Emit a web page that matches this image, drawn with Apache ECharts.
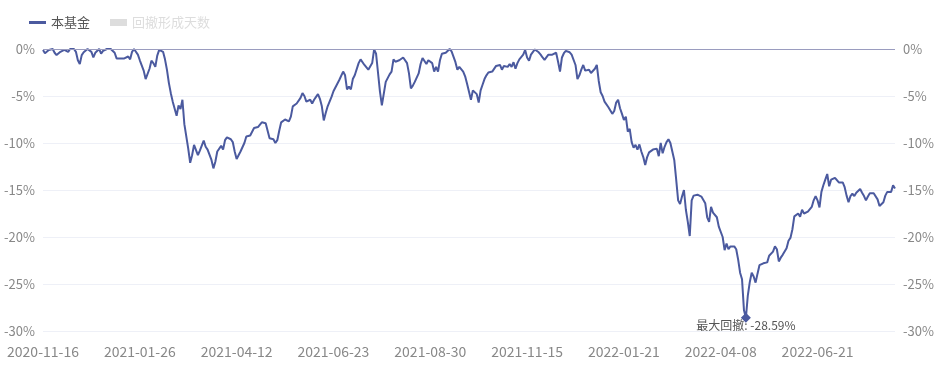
<!DOCTYPE html>
<html><head><meta charset="utf-8">
<script src="https://cdn.jsdelivr.net/npm/echarts@6/dist/echarts.min.js"></script>
<style>html,body{margin:0;padding:0;background:#fff}#chart{width:941px;height:368px}</style>
</head><body><div id="chart"></div>
<script>
// Visible x-axis tick labels (one every 50 points)
const tickDates = ['2020-11-16','2021-01-26','2021-04-12','2021-06-23','2021-08-30','2021-11-15','2022-01-21','2022-04-08','2022-06-21'];
const lastDate = '2022-08-18';
const pointsPerTick = 50;

// Drawdown of the fund (%), one value per trading day
const drawdown = [
-0.10,-0.45,-0.50,-0.10,-0.05,0.00,-0.40,-0.65,-0.45,-0.30,
-0.45,-0.10,-0.25,-0.30,0.00,-0.10,0.00,-0.30,-1.20,-1.60,
-0.65,-0.35,-0.20,0.00,0.00,-0.30,-0.90,-0.40,-0.50,0.00,
-0.50,-0.20,0.00,0.00,0.00,0.00,0.00,-0.40,-1.00,-1.00,
-1.00,-1.05,-1.00,-1.00,-0.80,-1.10,-0.30,0.00,0.00,-0.60,
-1.20,-1.40,-2.30,-3.20,-3.10,-2.10,-1.25,-1.50,-1.90,-0.70,
-0.10,0.00,-0.30,-1.10,-2.20,-3.60,-4.70,-5.60,-5.70,-7.10,
-6.00,-6.40,-5.40,-8.00,-8.20,-10.60,-12.10,-11.30,-10.20,-10.10,
-11.30,-10.80,-10.70,-9.75,-10.40,-10.70,-10.60,-11.80,-12.70,-12.00,
-10.90,-10.70,-10.30,-10.70,-9.70,-9.40,-9.50,-9.60,-9.90,-10.90,
-11.70,-11.60,-10.90,-10.90,-10.00,-9.30,-9.25,-9.20,-9.00,-8.40,
-8.60,-8.30,-8.50,-7.80,-7.70,-7.90,-8.70,-9.50,-9.70,-9.60,
-10.00,-9.70,-8.70,-7.80,-7.70,-7.50,-7.40,-7.70,-7.20,-6.10,
-5.90,-5.80,-5.70,-5.20,-4.70,-5.00,-5.60,-5.80,-5.40,-5.80,
-5.40,-5.10,-4.80,-5.30,-6.10,-7.60,-6.80,-6.10,-5.60,-5.10,
-4.50,-4.60,-3.70,-3.30,-3.20,-2.40,-2.80,-4.30,-4.00,-4.30,
-3.20,-2.80,-2.75,-1.50,-1.10,-1.20,-1.70,-1.50,-2.20,-2.30,
-1.50,-0.05,-0.50,-2.50,-4.50,-6.00,-6.00,-3.50,-3.70,-2.70,
-2.40,-1.10,-1.35,-1.25,-1.20,-1.05,-0.90,-1.10,-1.50,-2.60,
-4.20,-3.90,-3.50,-3.70,-2.60,-1.60,-0.95,-0.75,-1.60,-1.20,
-1.10,-1.50,-2.40,-1.90,-2.40,-1.20,-0.50,-0.45,-0.40,-0.20,
0.00,-0.25,-0.35,-1.40,-2.20,-1.90,-2.00,-2.40,-2.90,-3.70,
-3.70,-5.40,-4.40,-4.40,-4.80,-5.70,-4.40,-3.80,-3.20,-2.80,
-2.50,-2.30,-2.40,-2.50,-1.80,-1.60,-1.70,-2.20,-1.80,-1.70,
-1.90,-1.60,-1.90,-1.40,-2.10,-1.50,-1.10,-1.30,-0.60,-0.10,
-0.90,-1.25,-0.60,-0.55,-0.05,0.00,-0.35,-0.60,-0.90,-1.15,
-1.00,-0.60,-0.45,-0.60,-0.70,-0.40,-1.35,-2.40,-0.90,-0.45,
-0.20,-0.15,-0.35,-0.60,-0.50,-1.70,-3.20,-2.80,-2.20,-1.70,
-2.30,-2.40,-2.20,-2.55,-2.60,-2.10,-1.70,-3.40,-4.60,-5.00,
-5.60,-5.70,-6.20,-6.00,-6.90,-6.60,-5.70,-5.40,-6.30,-6.90,
-7.55,-7.20,-8.80,-8.50,-9.90,-10.50,-10.20,-10.70,-10.15,-10.90,
-11.50,-12.35,-11.50,-11.00,-10.80,-10.70,-10.60,-10.60,-11.40,-10.00,
-11.10,-10.40,-9.90,-9.60,-10.00,-10.90,-11.80,-13.90,-16.10,-16.50,
-15.70,-15.00,-17.10,-18.40,-19.90,-16.10,-15.60,-15.70,-15.50,-15.40,
-15.70,-15.60,-16.40,-17.90,-18.40,-16.80,-17.40,-17.20,-17.90,-18.90,
-19.10,-20.00,-21.40,-20.70,-21.30,-21.00,-20.85,-21.00,-21.30,-22.40,
-23.80,-24.50,-27.80,-28.59,-26.20,-24.80,-23.80,-24.20,-24.85,-23.90,
-23.00,-22.80,-22.80,-22.60,-22.70,-22.00,-22.00,-21.55,-21.00,-21.30,
-22.60,-22.20,-21.90,-21.80,-21.20,-20.40,-20.10,-19.20,-17.80,-17.70,
-17.50,-17.85,-17.10,-17.50,-17.50,-17.30,-17.10,-16.80,-16.10,-15.65,
-16.10,-16.85,-15.20,-14.50,-13.90,-13.30,-14.60,-13.90,-13.90,-13.70,
-13.60,-14.20,-14.00,-14.20,-14.70,-15.60,-16.30,-15.65,-15.40,-15.65,
-15.30,-15.35,-14.90,-15.30,-15.65,-16.10,-15.70,-15.35,-15.20,-15.35,
-15.20,-16.00,-16.70,-16.90,-16.30,-15.60,-15.20,-15.10,-15.20,-14.50,
-14.85
];
// Second legend item (shown inactive in the reference)
const drawdownDays = [];

// Category dates: tick dates at every 50th point, intermediate dates spread between them
function buildCategories() {
  const anchors = tickDates.concat([lastDate]);
  const res = [];
  const day = 86400000;
  for (let k = 0; k < anchors.length - 1; k++) {
    const a = Date.parse(anchors[k] + 'T00:00:00Z');
    const b = Date.parse(anchors[k + 1] + 'T00:00:00Z');
    const steps = (k < tickDates.length - 1) ? pointsPerTick : (drawdown.length - 1 - k * pointsPerTick);
    for (let j = 0; j < steps; j++) {
      const t = a + Math.round(j * (b - a) / steps / day) * day;
      res.push(new Date(t).toISOString().slice(0, 10));
    }
  }
  res.push(lastDate);
  return res.slice(0, drawdown.length);
}
const categories = buildCategories();

const FONT = "'Noto Sans CJK SC','Noto Sans',sans-serif";
const LINE_COLOR = '#4b5a9f';
const chart = echarts.init(document.getElementById('chart'), null, {renderer: 'canvas'});
chart.setOption({
  animation: false,
  textStyle: {fontFamily: FONT},
  grid: {left: 43, right: 46, top: 49, bottom: 37},
  legend: {
    left: 24, top: 11, itemWidth: 17, itemHeight: 7, itemGap: 20,
    symbolKeepAspect: true,
    textStyle: {fontSize: 13, color: '#555', fontFamily: FONT},
    inactiveColor: '#ddd',
    selected: {'回撤形成天数': false},
    data: [
      {name: '本基金', icon: 'path://M0,0H170V30H0Z'},
      {name: '回撤形成天数', icon: 'rect'}
    ]
  },
  xAxis: {
    type: 'category', data: categories, boundaryGap: false,
    axisLine: {show: false}, axisTick: {show: false},
    axisLabel: {interval: pointsPerTick - 1, color: '#888', fontSize: 14, margin: 14, fontFamily: FONT},
    splitLine: {show: false}
  },
  yAxis: [
    {type: 'value', min: -30, max: 0, interval: 5,
     axisLine: {show: false}, axisTick: {show: false},
     axisLabel: {formatter: '{value}%', color: '#888', fontSize: 13, margin: 8, fontFamily: FONT},
     splitLine: {lineStyle: {color: '#eef0f7', width: 1}}},
    {type: 'value', min: -30, max: 0, interval: 5, position: 'right',
     axisLine: {show: false}, axisTick: {show: false},
     axisLabel: {formatter: '{value}%', color: '#888', fontSize: 13, margin: 8, fontFamily: FONT},
     splitLine: {show: false}}
  ],
  series: [
    {
      name: '本基金', type: 'line', data: drawdown, symbol: 'none',
      lineStyle: {color: LINE_COLOR, width: 2}, itemStyle: {color: LINE_COLOR},
      markLine: {
        silent: true, symbol: 'none', label: {show: false},
        lineStyle: {color: '#9a9cbf', type: 'solid', width: 1},
        data: [{yAxis: 0}]
      },
      markPoint: {
        symbol: 'diamond', symbolSize: 10,
        itemStyle: {color: LINE_COLOR},
        label: {
          show: true, position: 'bottom', distance: -3, color: '#555', fontSize: 12, fontFamily: FONT,
          formatter: p => '最大回撤: ' + p.value.toFixed(2) + '%'
        },
        data: [{type: 'min'}]
      }
    },
    {
      name: '回撤形成天数', type: 'bar', data: drawdownDays, itemStyle: {color: '#c8cce0'}
    }
  ]
});
</script>
</body></html>
